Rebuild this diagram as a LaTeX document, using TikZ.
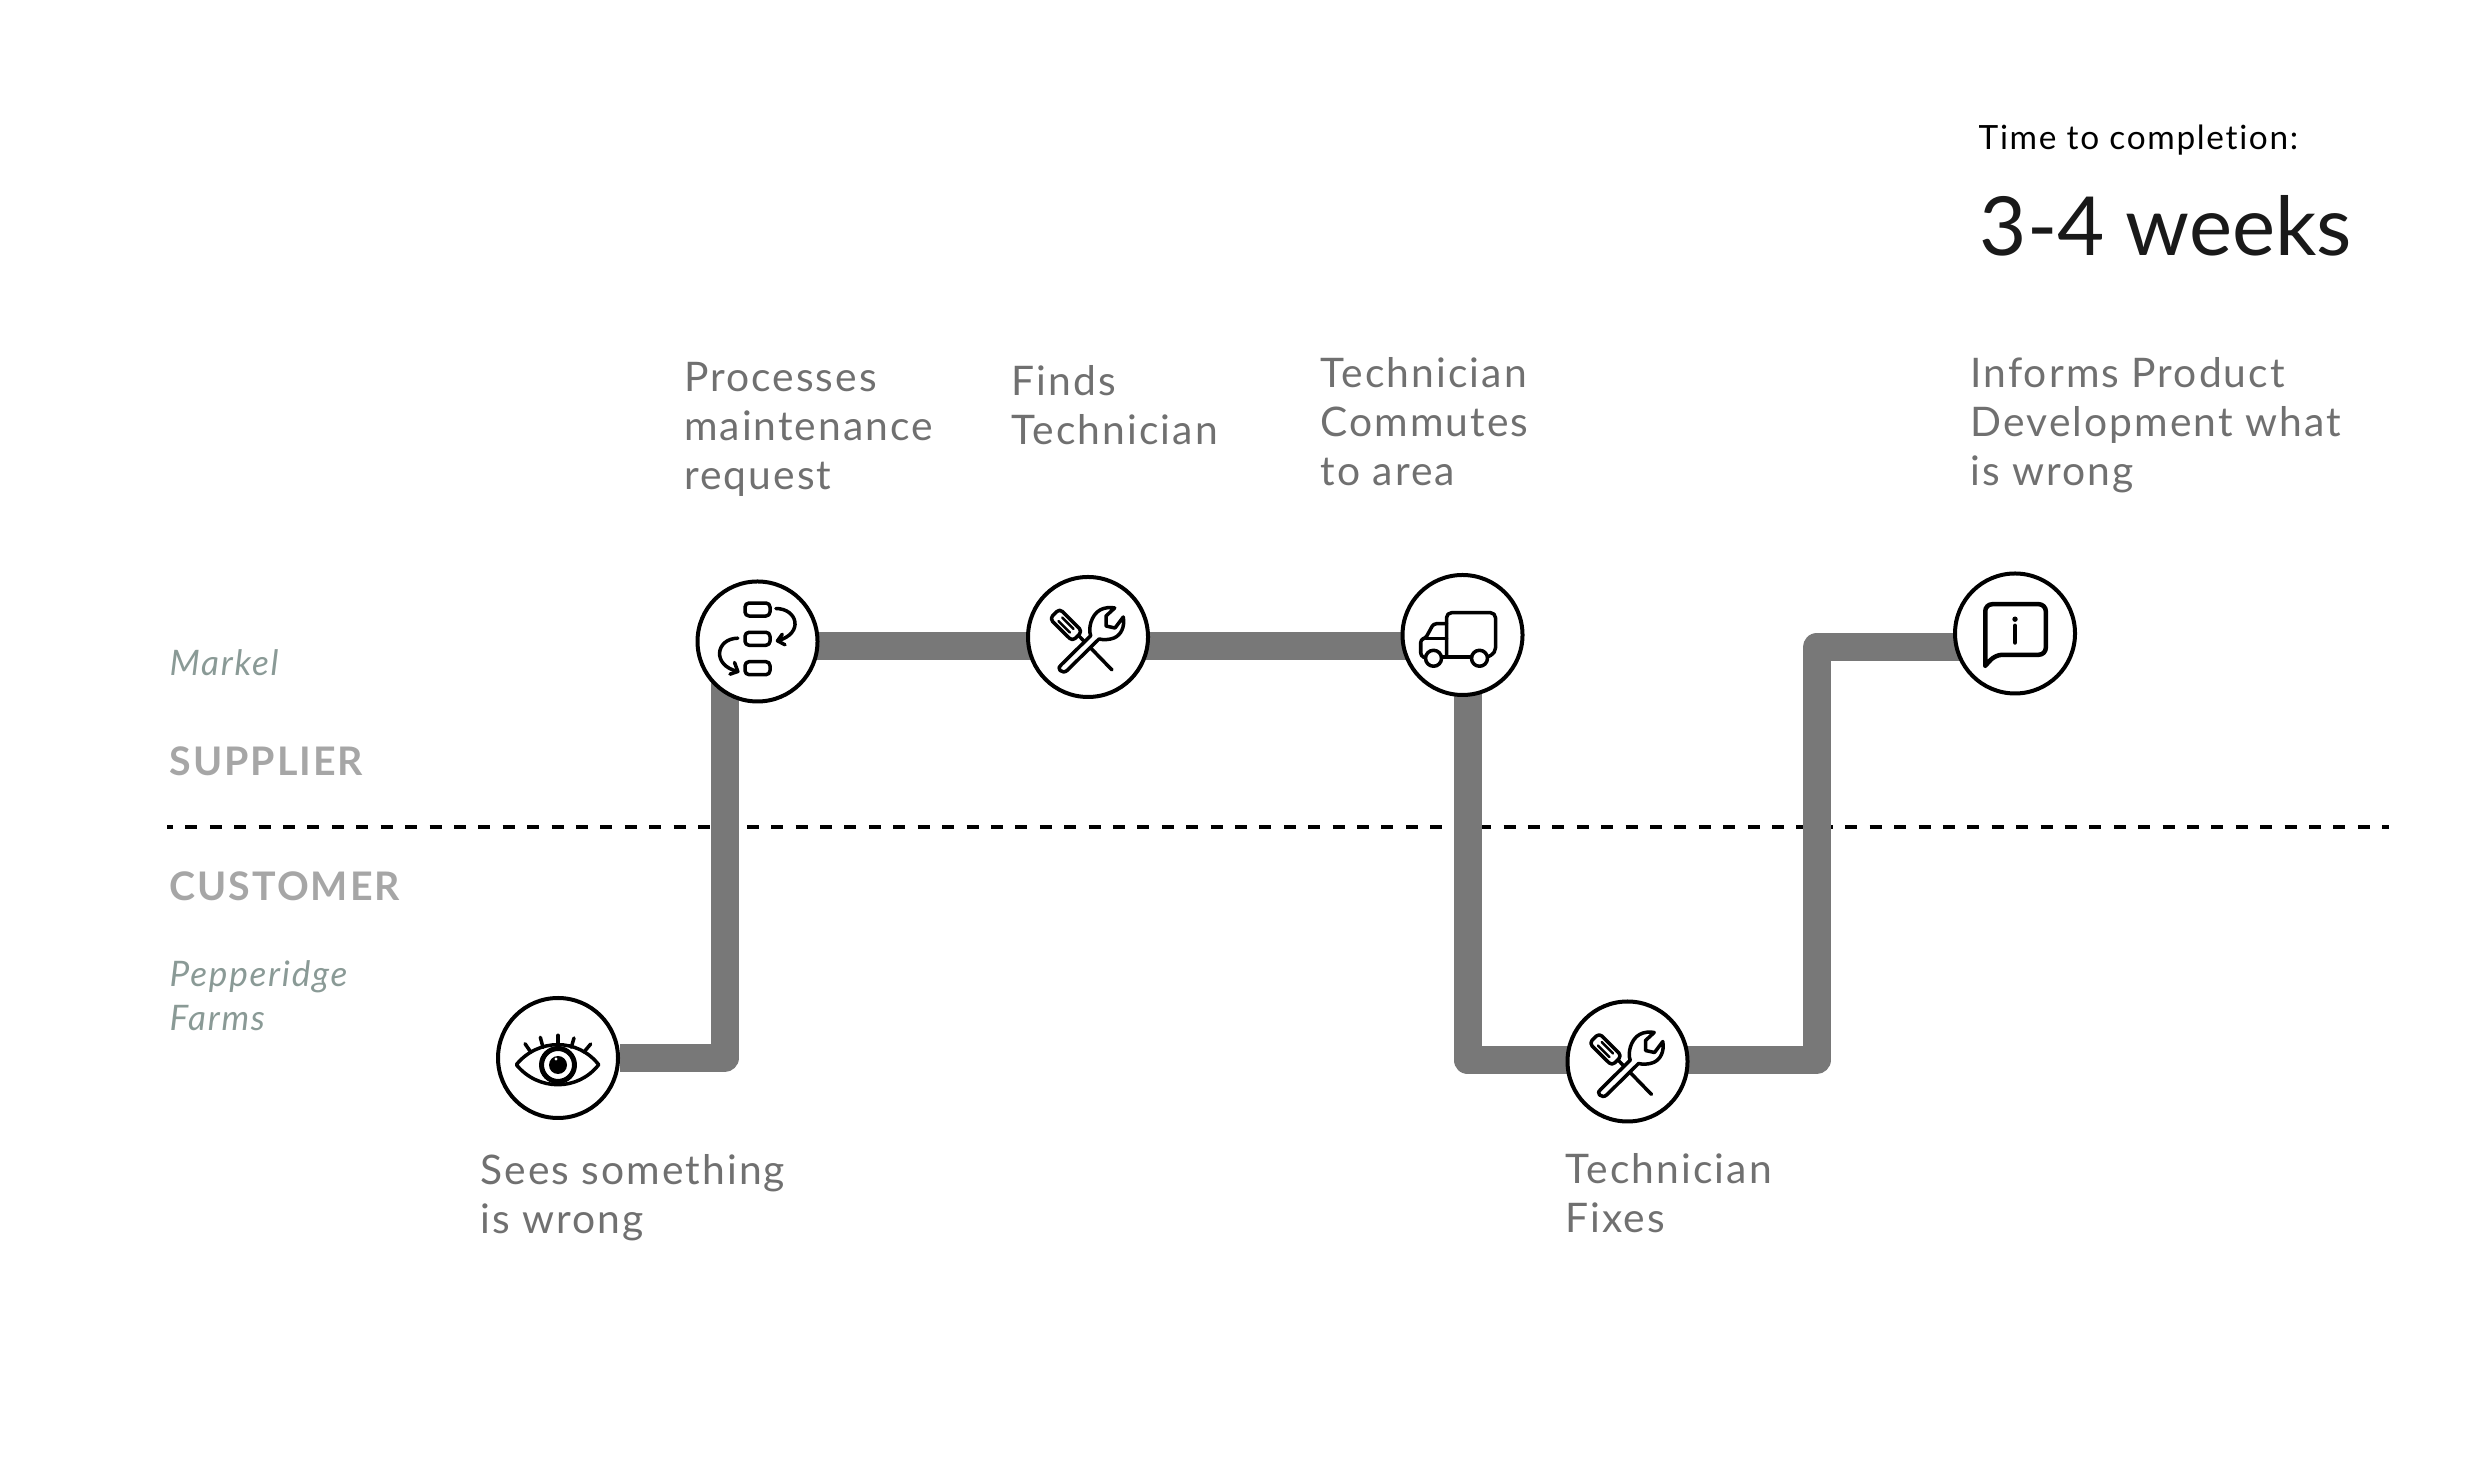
\documentclass[tikz,border=0pt]{standalone}
\usepackage{fontspec}
\setmainfont{Lato}
\newfontfamily\stepfont[LetterSpace=5,Ligatures=NoCommon]{Lato}
\newfontfamily\plainfont[Ligatures=NoCommon]{Lato}
\usetikzlibrary{backgrounds}
\definecolor{trackgray}{HTML}{787878}
\definecolor{stepgray}{HTML}{707070}
\definecolor{capsgray}{HTML}{A6A6A6}
\definecolor{companygray}{HTML}{8A9A96}
\tikzset{
    track/.style       = {draw=trackgray, line width=0.28cm, line join=round},
    boundary/.style    = {draw=black, line width=0.04cm, dash pattern=on 0.12cm off 0.1241cm, dash phase=0.06cm},
    station/.style     = {draw=black, line width=0.04cm, fill=white, circle,
                          minimum size=1.2cm, inner sep=0pt},
    steptext/.style    = {anchor=base west, inner sep=0pt, align=left, text=stepgray,
                          font=\stepfont\fontsize{11.6}{13.95}\selectfont},
    company/.style     = {anchor=base west, inner sep=0pt, align=left, text=companygray,
                          font=\stepfont\itshape\fontsize{10}{12.8}\selectfont},
    side/.style        = {anchor=base west, inner sep=0pt, text=capsgray,
                          font=\stepfont\bfseries\fontsize{11.2}{13}\selectfont},
    icon/.style        = {x=0.01cm, y=0.01cm, line width=0.035cm, line cap=round, line join=round},
    pics/eyeicon/.style = {code={
        \begin{scope}[icon]
        \draw (-41.7,-6.7) .. controls (-20,20) and (20,20) .. (40.7,-6.7)
              .. controls (20,-33.4) and (-20,-33.4) .. cycle;
        \draw[line width=0.05cm] (0,-7) circle (16.5);
        \fill (0,-7) circle (9);
        \fill[white] (-2,-1) circle (1.6);
        \foreach \ax/\ay/\bx/\by in {-27.3/6/-33/14.3, -15/10.7/-17.7/20.7, 0/13.3/0/22.7, 13.3/10.7/16/20, 26/6/32.7/14}
            \draw (\ax,\ay) -- (\bx,\by);
        \end{scope}}},
    pics/toolsicon/.style = {code={
        \begin{scope}[icon]
        \draw[rounded corners=0.04cm] (-38.3,18.4) -- (-28.4,28.3) -- (-5.8,5.7) -- (-15.6,-4.2) -- cycle;
        \draw[line width=0.025cm] (-25.9,19.5) -- (-14.5,8.1);
        \draw[line width=0.025cm] (-29.5,15.9) -- (-18.1,4.5);
        \draw (-9,1) -- (24,-33);
        \draw[fill=white] (-26.7,-27.7) -- (2.7,1.3) .. controls (0,8) and (3,22) .. (12,27)
              .. controls (16,29.5) and (23,30) .. (26.7,29) -- (18,21) -- (18,11) -- (27,9) -- (35.3,20)
              .. controls (37,10) and (33,2) .. (26,-1) .. controls (21,-3) and (15,-3) .. (11,-2)
              -- (-20.7,-33.3) .. controls (-23,-35.5) and (-26,-35.5) .. (-28,-33.5)
              .. controls (-30,-31.5) and (-29,-29.5) .. cycle;
        \end{scope}}},
    pics/flowicon/.style = {code={
        \begin{scope}[icon]
        \foreach \ry in {32,2.7,-26.7}
            \draw[rounded corners=0.04cm] (-12.5,\ry-6.5) rectangle (12.5,\ry+6.5);
        % curved arrows, heads drawn by hand
        \draw (18.4,33) .. controls (40,33) and (47,8) .. (20,0.7);
        \draw (24.8,7.3) -- (20,0.7) -- (27.5,-3.3);
        \draw (-19.7,3.3) .. controls (-42,3) and (-46,-24) .. (-19.7,-30);
        \draw (-23,-21) -- (-19.7,-30) -- (-27.5,-32.7);
        \end{scope}}},
    pics/truckicon/.style = {code={
        \begin{scope}[icon]
        \draw[rounded corners=0.05cm] (-16,-22) -- (-16,22.3) -- (33,22.3) -- (33,-18) -- (25,-22);
        \draw (-16,-22) -- (9,-22);
        \draw[rounded corners=0.03cm] (-16,11.3) -- (-29,11.3) -- (-37,-3.3) -- (-41.8,-4.3) -- (-41.8,-21) -- (-37,-23);
        \draw (-37,-3.3) -- (-16,-3.3);
        \draw (-21,-22) -- (-16,-22);
        \draw (-29,-23.3) circle (8);
        \draw (17,-23.3) circle (8);
        \end{scope}}},
    pics/infoicon/.style = {code={
        \begin{scope}[icon, line width=0.045cm]
        \draw[rounded corners=0.07cm] (-29.8,-32.3) -- (-29.8,29.3) -- (30.8,29.3) -- (30.8,-21.3) -- (-19.7,-21.3) -- (-29.8,-32.3);
        \draw (0,7.7) -- (0,-9);
        \fill (0,14.3) circle (2.7);
        \end{scope}}}
}
\begin{document}
\begin{tikzpicture}
\useasboundingbox (0,0) rectangle (24.69,14.61);

% ================= Stations =================
\node[station] (eye)     at ( 5.58, 4.03) {};
\node[station] (process) at ( 7.575, 8.195) {};
\node[station] (finds)   at (10.88, 8.24) {};
\node[station] (truck)   at (14.625, 8.26) {};
\node[station] (fixes)   at (16.275, 3.995) {};
\node[station] (inform)  at (20.15, 8.275) {};

\pic at (eye)     {eyeicon};
\pic at (process) {flowicon};
\pic at (finds)   {toolsicon};
\pic at (truck)   {truckicon};
\pic at (fixes)   {toolsicon};
\pic at (inform)  {infoicon};

% ================= Track turns =================
\coordinate (riseleft)  at (7.245, 4.03);
\coordinate (topleft)   at (7.245, 8.15);
\coordinate (topright)  at (14.675, 8.15);
\coordinate (lowleft)   at (14.675, 4.01);
\coordinate (lowright)  at (18.165, 4.01);
\coordinate (riseright) at (18.165, 8.135);
\coordinate (lineleft)  at (1.67, 6.34);
\coordinate (lineright) at (23.89, 6.34);

\begin{scope}[on background layer]
\draw[boundary] (lineleft) -- (lineright);
\draw[track] (eye) -- (riseleft) -- (topleft) -- (process.center |- topleft);
\draw[track] (process.center |- topleft) -- (finds.center |- topleft) -- (topright) -- (lowleft)
    -- (fixes.center |- lowleft) -- (lowright) -- (riseright) -- (inform.center |- riseright);
\end{scope}

% ================= Labels =================
\node[steptext] (seestext)    at ( 4.80, 2.27) {Sees something\\is wrong};
\node[steptext] (processtext) at ( 6.835,9.715) {Processes\\maintenance\\request};
\node[steptext] (findstext)   at (10.11,10.165) {Finds\\Technician};
\node[steptext] (trucktext)   at (13.20, 9.755) {Technician\\Commutes\\to area};
\node[steptext] (fixestext)   at (15.65, 2.285) {Technician\\Fixes};
\node[steptext] (informtext)  at (19.70, 9.755) {Informs Product\\Development what\\is wrong};

\node[company] (markel)     at (1.69, 7.85) {Markel};
\node[side]    (supplier)   at (1.69, 6.85) {SUPPLIER};
\node[side]    (customer)   at (1.69, 5.60) {CUSTOMER};
\node[company] (pepperidge) at (1.69, 4.30) {Pepperidge\\Farms};

\node[anchor=base west, inner sep=0pt, font=\stepfont\fontsize{9.5}{12}\selectfont] (timelabel) at (19.78,13.115) {Time to completion:};
\node[anchor=base west, inner sep=0pt, text=black!90, font=\plainfont\fontsize{23.2}{28}\selectfont] (timevalue) at (19.79,12.055) {3-4 weeks};

\end{tikzpicture}
\end{document}
